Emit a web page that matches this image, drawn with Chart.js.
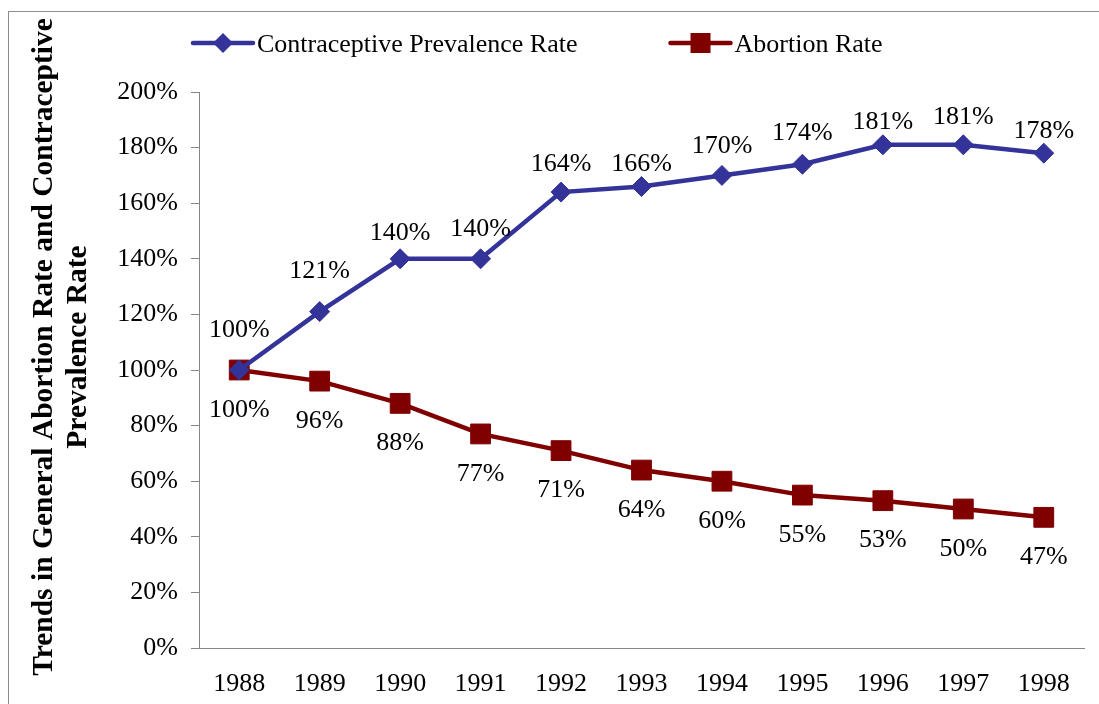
<!DOCTYPE html>
<html>
<head>
<meta charset="utf-8">
<script src="https://cdn.jsdelivr.net/npm/chart.js@4/dist/chart.umd.min.js"></script>
<style>
  html, body { margin: 0; padding: 0; background: #fff; }
  #wrap { width: 1099px; height: 704px; }
</style>
</head>
<body>
<div id="wrap"><canvas id="lineChart" width="1099" height="704"></canvas></div>
<script>
// data
const years = ['1988', '1989', '1990', '1991', '1992', '1993', '1994', '1995', '1996', '1997', '1998'];
const contraceptive = [100, 121, 140, 140, 164, 166, 170, 174, 181, 181, 178];
const abortion = [100, 96, 88, 77, 71, 64, 60, 55, 53, 50, 47];
const seriesNames = ['Contraceptive Prevalence Rate', 'Abortion Rate'];
const axisTitle = ['Trends in General Abortion Rate and Contraceptive', 'Prevalence Rate'];

const blue = '#333399';
const red = '#800000';
const serif = '"Liberation Serif", "Times New Roman", serif';

// how far above the blue points the labels sit (px)
const blueLift = [40, 40, 26, 30, 28, 22, 29, 31, 23, 28, 22];

// frame round the whole chart
const framePlugin = {
  id: 'frame',
  beforeDraw(chart) {
    const ctx = chart.ctx;
    ctx.save();
    ctx.fillStyle = '#fff';
    ctx.fillRect(0, 0, chart.width, chart.height);
    ctx.strokeStyle = '#8c8c8c';
    ctx.lineWidth = 1;
    ctx.strokeRect(8.5, 11.5, 1200, 800);
    ctx.restore();
  }
};

// value labels, above blue and under red
const valueLabels = {
  id: 'valueLabels',
  afterDatasetsDraw(chart) {
    const ctx = chart.ctx;
    ctx.save();
    ctx.font = '26px ' + serif;
    ctx.fillStyle = '#000';
    ctx.textAlign = 'center';
    ctx.textBaseline = 'middle';
    chart.data.datasets.forEach((ds, i) => {
      chart.getDatasetMeta(i).data.forEach((pt, j) => {
        const dy = i === 0 ? -blueLift[j] : 40;
        ctx.fillText(ds.data[j] + '%', pt.x, pt.y + dy);
      });
    });
    ctx.restore();
  }
};

// legend with line + marker, and the rotated y title
const extras = {
  id: 'extras',
  afterDraw(chart) {
    const ctx = chart.ctx;
    ctx.save();
    ctx.font = '26px ' + serif;
    ctx.textBaseline = 'middle';
    ctx.textAlign = 'left';
    let x = 193;
    const y = 43;
    chart.data.datasets.forEach((ds) => {
      ctx.strokeStyle = ds.borderColor;
      ctx.lineWidth = 4.5;
      ctx.lineCap = 'round';
      ctx.beginPath();
      ctx.moveTo(x, y);
      ctx.lineTo(x + 60, y);
      ctx.stroke();
      ctx.fillStyle = ds.borderColor;
      ctx.beginPath();
      if (ds.pointStyle === 'rectRot') {
        ctx.moveTo(x + 30 - 10, y);
        ctx.lineTo(x + 30, y - 10);
        ctx.lineTo(x + 30 + 10, y);
        ctx.lineTo(x + 30, y + 10);
        ctx.closePath();
      } else {
        ctx.rect(x + 30 - 10, y - 10, 20, 20);
      }
      ctx.fill();
      ctx.fillStyle = '#000';
      ctx.fillText(ds.label, x + 64, y + 2);
      x += 64 + ctx.measureText(ds.label).width + 93;
    });

    ctx.font = 'bold 29.5px ' + serif;
    ctx.textAlign = 'center';
    ctx.translate(0, 347);
    ctx.rotate(-Math.PI / 2);
    ctx.fillText(axisTitle[0], 0, 44);
    ctx.fillText(axisTitle[1], 0, 78);
    ctx.restore();
  }
};

const ctx = document.getElementById('lineChart').getContext('2d');
const chart = new Chart(ctx, {
  type: 'line',
  data: {
    labels: years,
    datasets: [{
      label: seriesNames[0],
      data: contraceptive,
      borderColor: blue,
      backgroundColor: blue,
      borderWidth: 4.5,
      pointStyle: 'rectRot',
      pointRadius: 10,
      pointBorderWidth: 1,
      tension: 0
    }, {
      label: seriesNames[1],
      data: abortion,
      borderColor: red,
      backgroundColor: red,
      borderWidth: 4.5,
      pointStyle: 'rect',
      pointRadius: 14,
      pointBorderWidth: 1,
      tension: 0
    }]
  },
  options: {
    responsive: false,
    animation: false,
    layout: { padding: { top: 92, left: 117, right: 11, bottom: 0 } },
    plugins: {
      legend: { display: false },
      tooltip: { enabled: false }
    },
    scales: {
      x: {
        offset: true,
        grid: { drawOnChartArea: false, drawTicks: false },
        border: { color: '#868686', width: 1 },
        ticks: { color: '#000', padding: 23, font: { family: serif, size: 26, lineHeight: 1 } },
        afterFit: scale => { scale.height = 56; }
      },
      y: {
        min: 0,
        max: 200,
        grid: { drawOnChartArea: false, drawTicks: true, tickLength: 8, color: '#868686' },
        border: { color: '#868686', width: 1 },
        ticks: {
          stepSize: 20,
          color: '#000',
          padding: 13,
          font: { family: serif, size: 26 },
          callback: v => v + '%'
        },
        afterFit: scale => { scale.width = 82; }
      }
    }
  },
  plugins: [framePlugin, valueLabels, extras]
});
</script>
</body>
</html>
